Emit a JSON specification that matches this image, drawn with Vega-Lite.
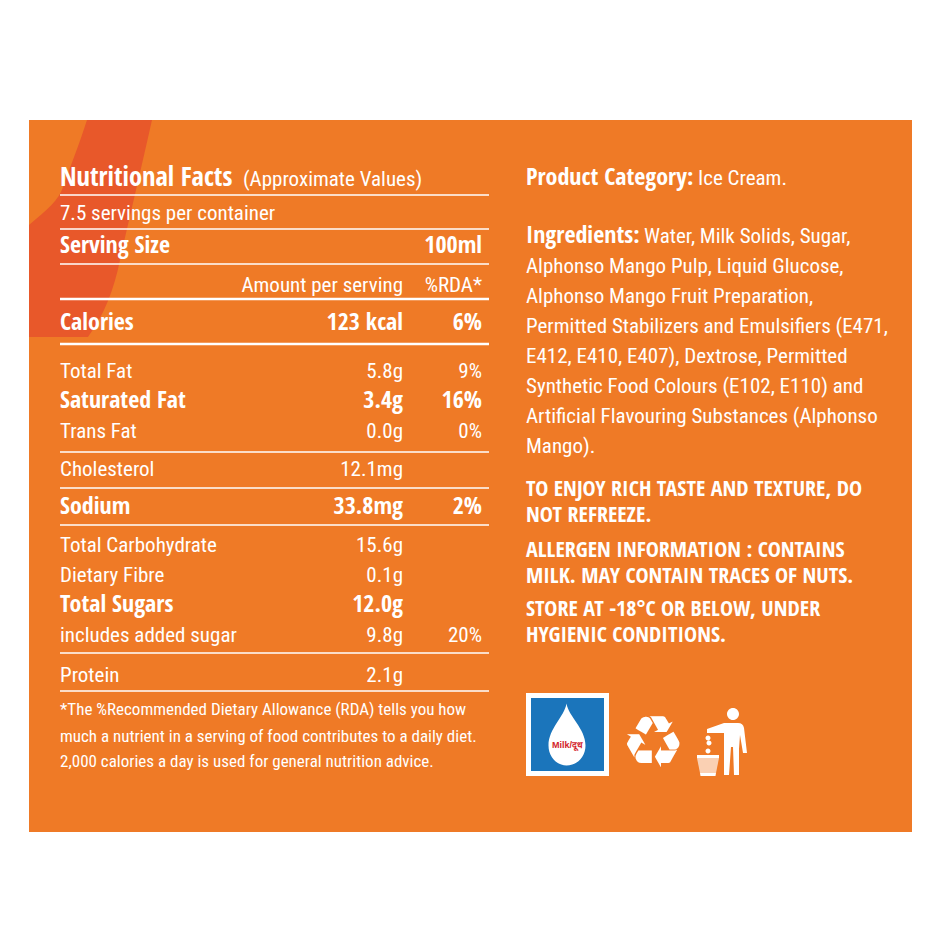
{
  "$schema": "https://vega.github.io/schema/vega-lite/v6.json",
  "autosize": {"type": "fit", "contains": "padding"},
  "width": 940,
  "height": 940,
  "padding": 0,
  "background": "#ffffff",
  "config": {"view": {"stroke": null}},
  "datasets": {
    "panel": [{"c1": 0, "c2": 9, "l1": 50, "l2": 51}],
    "anchor_blob": [{"col": 0, "line": 50}],
    "anchor_milk": [{"col": 10, "line": 52}],
    "anchor_man": [{"col": 12, "line": 54}],
    "rules_thin": [
      {"c1": 1, "c2": 5, "line": 21},
      {"c1": 1, "c2": 5, "line": 22},
      {"c1": 1, "c2": 5, "line": 23},
      {"c1": 1, "c2": 5, "line": 26},
      {"c1": 1, "c2": 5, "line": 27},
      {"c1": 1, "c2": 5, "line": 28},
      {"c1": 1, "c2": 5, "line": 29},
      {"c1": 1, "c2": 5, "line": 30}
    ],
    "rules_thick": [
      {"c1": 1, "c2": 5, "line": 24},
      {"c1": 1, "c2": 5, "line": 25}
    ],
    "title_bold": [
      {"col": 1, "line": 1, "text": "Nutritional Facts"}
    ],
    "head_bold": [
      {"col": 6, "line": 31, "text": "Product Category:"},
      {"col": 6, "line": 32, "text": "Ingredients:"}
    ],
    "left_regular": [
      {"col": 2, "line": 1, "text": "(Approximate Values)"},
      {"col": 1, "line": 2, "text": "7.5 servings per container"},
      {"col": 1, "line": 6, "text": "Total Fat"},
      {"col": 1, "line": 8, "text": "Trans Fat"},
      {"col": 1, "line": 9, "text": "Cholesterol"},
      {"col": 1, "line": 11, "text": "Total Carbohydrate"},
      {"col": 1, "line": 12, "text": "Dietary Fibre"},
      {"col": 1, "line": 14, "text": "includes added sugar"},
      {"col": 1, "line": 15, "text": "Protein"},
      {"col": 8, "line": 31, "text": "Ice Cream."},
      {"col": 7, "line": 32, "text": "Water, Milk Solids, Sugar,"},
      {"col": 6, "line": 33, "text": "Alphonso Mango Pulp, Liquid Glucose,"},
      {"col": 6, "line": 34, "text": "Alphonso Mango Fruit Preparation,"},
      {"col": 6, "line": 35, "text": "Permitted Stabilizers and Emulsifiers (E471,"},
      {"col": 6, "line": 36, "text": "E412, E410, E407), Dextrose, Permitted"},
      {"col": 6, "line": 37, "text": "Synthetic Food Colours (E102, E110) and"},
      {"col": 6, "line": 38, "text": "Artificial Flavouring Substances (Alphonso"},
      {"col": 6, "line": 39, "text": "Mango)."}
    ],
    "left_bold": [
      {"col": 1, "line": 3, "text": "Serving Size"},
      {"col": 1, "line": 5, "text": "Calories"},
      {"col": 1, "line": 7, "text": "Saturated Fat"},
      {"col": 1, "line": 10, "text": "Sodium"},
      {"col": 1, "line": 13, "text": "Total Sugars"}
    ],
    "right_regular": [
      {"col": 3, "line": 4, "text": "Amount per serving"},
      {"col": 4, "line": 4, "text": "%RDA*"},
      {"col": 3, "line": 6, "text": "5.8g"},
      {"col": 4, "line": 6, "text": "9%"},
      {"col": 3, "line": 8, "text": "0.0g"},
      {"col": 4, "line": 8, "text": "0%"},
      {"col": 3, "line": 9, "text": "12.1mg"},
      {"col": 3, "line": 11, "text": "15.6g"},
      {"col": 3, "line": 12, "text": "0.1g"},
      {"col": 3, "line": 14, "text": "9.8g"},
      {"col": 4, "line": 14, "text": "20%"},
      {"col": 3, "line": 15, "text": "2.1g"}
    ],
    "right_bold": [
      {"col": 4, "line": 3, "text": "100ml"},
      {"col": 3, "line": 5, "text": "123 kcal"},
      {"col": 4, "line": 5, "text": "6%"},
      {"col": 3, "line": 7, "text": "3.4g"},
      {"col": 4, "line": 7, "text": "16%"},
      {"col": 3, "line": 10, "text": "33.8mg"},
      {"col": 4, "line": 10, "text": "2%"},
      {"col": 3, "line": 13, "text": "12.0g"}
    ],
    "footnote": [
      {"col": 1, "line": 16, "text": "*The %Recommended Dietary Allowance (RDA) tells you how"},
      {"col": 1, "line": 17, "text": "much a nutrient in a serving of food contributes to a daily diet."},
      {"col": 1, "line": 18, "text": "2,000 calories a day is used for general nutrition advice."}
    ],
    "caps": [
      {"col": 6, "line": 40, "text": "TO ENJOY RICH TASTE AND TEXTURE, DO"},
      {"col": 6, "line": 41, "text": "NOT REFREEZE."},
      {"col": 6, "line": 42, "text": "ALLERGEN INFORMATION : CONTAINS"},
      {"col": 6, "line": 43, "text": "MILK. MAY CONTAIN TRACES OF NUTS."},
      {"col": 6, "line": 44, "text": "STORE AT -18°C OR BELOW, UNDER"},
      {"col": 6, "line": 45, "text": "HYGIENIC CONDITIONS."}
    ],
    "milk_label": [{"col": 10, "line": 55, "text": "Milk/दूध"}],
    "recycle": [{"col": 11, "line": 53, "text": "♻"}]
  },
  "encoding": {
    "x": {
      "field": "col",
      "type": "quantitative",
      "axis": null,
      "scale": {
        "zero": false,
        "nice": false,
        "domain": [0, 1, 2, 3, 4, 5, 6, 7, 8, 9, 10, 11, 12],
        "range": [29, 60, 243, 403, 482, 489, 526, 644, 698, 912, 567.5, 653, 720]
      }
    },
    "y": {
      "field": "line",
      "type": "quantitative",
      "axis": null,
      "scale": {
        "zero": false,
        "nice": false,
        "domain": [1, 2, 3, 4, 5, 6, 7, 8, 9, 10, 11, 12, 13, 14, 15, 16, 17, 18, 21, 22, 23, 24, 25, 26, 27, 28, 29, 30, 31, 32, 33, 34, 35, 36, 37, 38, 39, 40, 41, 42, 43, 44, 45, 50, 51, 52, 53, 54, 55],
        "range": [186, 220, 253, 292, 330, 378, 408, 438, 476, 514, 552, 582, 612, 642, 682, 715, 742, 767, 195, 229, 264, 299, 344, 452, 488, 525, 653, 691, 185, 243, 273, 303, 333, 363, 393, 423, 453, 496, 522, 557, 583, 616, 642, 120, 832, 734.5, 745, 745, 745]
      }
    }
  },
  "layer": [
    {
      "data": {"name": "panel"},
      "mark": {"type": "rect", "color": "#ef7a26"},
      "encoding": {
        "x": {"field": "c1", "type": "quantitative"},
        "x2": {"field": "c2"},
        "y": {"field": "l1", "type": "quantitative"},
        "y2": {"field": "l2"}
      }
    },
    {
      "data": {"name": "anchor_blob"},
      "mark": {"type": "point", "filled": true, "size": 4, "opacity": 1, "strokeWidth": 0, "color": "#e8582a", "shape": "M58,0 L123,0 C113,45 100,100 91,140 C85,170 75,195 59,217 L0,217 L0,105 C18,90 30,80 34,67 C40,50 50,25 58,0Z"}
    },
    {
      "data": {"name": "rules_thin"},
      "mark": {"type": "rule", "color": "#ffffff", "strokeWidth": 1.5},
      "encoding": {"x": {"field": "c1", "type": "quantitative"}, "x2": {"field": "c2"}}
    },
    {
      "data": {"name": "rules_thick"},
      "mark": {"type": "rule", "color": "#ffffff", "strokeWidth": 2.5},
      "encoding": {"x": {"field": "c1", "type": "quantitative"}, "x2": {"field": "c2"}}
    },
    {
      "data": {"name": "title_bold"},
      "mark": {"type": "text", "align": "left", "baseline": "alphabetic", "font": "Open Sans Condensed", "fontWeight": "bold", "fontSize": 26.5, "color": "#ffffff"},
      "encoding": {"text": {"field": "text"}}
    },
    {
      "data": {"name": "head_bold"},
      "mark": {"type": "text", "align": "left", "baseline": "alphabetic", "font": "Open Sans Condensed", "fontWeight": "bold", "fontSize": 24, "color": "#ffffff"},
      "encoding": {"text": {"field": "text"}}
    },
    {
      "data": {"name": "left_regular"},
      "mark": {"type": "text", "align": "left", "baseline": "alphabetic", "font": "Roboto Condensed", "fontSize": 21, "color": "#ffffff"},
      "encoding": {"text": {"field": "text"}}
    },
    {
      "data": {"name": "left_bold"},
      "mark": {"type": "text", "align": "left", "baseline": "alphabetic", "font": "Open Sans Condensed", "fontWeight": "bold", "fontSize": 24, "color": "#ffffff"},
      "encoding": {"text": {"field": "text"}}
    },
    {
      "data": {"name": "right_regular"},
      "mark": {"type": "text", "align": "right", "baseline": "alphabetic", "font": "Roboto Condensed", "fontSize": 21, "color": "#ffffff"},
      "encoding": {"text": {"field": "text"}}
    },
    {
      "data": {"name": "right_bold"},
      "mark": {"type": "text", "align": "right", "baseline": "alphabetic", "font": "Open Sans Condensed", "fontWeight": "bold", "fontSize": 24, "color": "#ffffff"},
      "encoding": {"text": {"field": "text"}}
    },
    {
      "data": {"name": "footnote"},
      "mark": {"type": "text", "align": "left", "baseline": "alphabetic", "font": "Roboto Condensed", "fontSize": 17, "color": "#ffffff"},
      "encoding": {"text": {"field": "text"}}
    },
    {
      "data": {"name": "caps"},
      "mark": {"type": "text", "align": "left", "baseline": "alphabetic", "font": "Open Sans Condensed", "fontWeight": "bold", "fontSize": 22, "color": "#ffffff"},
      "encoding": {"text": {"field": "text"}}
    },
    {
      "data": {"name": "anchor_milk"},
      "mark": {"type": "point", "filled": true, "size": 4, "opacity": 1, "strokeWidth": 0, "color": "#ffffff", "shape": "M-41.5,-41.5 H41.5 V41.5 H-41.5Z"}
    },
    {
      "data": {"name": "anchor_milk"},
      "mark": {"type": "point", "filled": true, "size": 4, "opacity": 1, "strokeWidth": 0, "color": "#1b75bb", "shape": "M-36.5,-36.5 H36.5 V36.5 H-36.5Z"}
    },
    {
      "data": {"name": "anchor_milk"},
      "mark": {"type": "point", "filled": true, "size": 4, "opacity": 1, "strokeWidth": 0, "color": "#ffffff", "shape": "M-1,-31 C-3,-18 -19,-6 -19,11 C-19,23 -10,31 -1,31 C9,31 18,23 18,11 C18,-6 1,-18 -1,-31Z"}
    },
    {
      "data": {"name": "milk_label"},
      "mark": {"type": "text", "align": "center", "baseline": "middle", "font": "Liberation Sans", "fontWeight": "bold", "fontSize": 9, "color": "#d2232a"},
      "encoding": {"text": {"field": "text"}}
    },
    {
      "data": {"name": "recycle"},
      "mark": {"type": "text", "align": "center", "baseline": "middle", "font": "DejaVu Sans", "fontSize": 72, "color": "#ffffff"},
      "encoding": {"text": {"field": "text"}}
    },
    {
      "data": {"name": "anchor_man"},
      "mark": {"type": "point", "filled": true, "size": 4, "opacity": 1, "strokeWidth": 0, "color": "#ffffff", "shape": "M7,-31a6,6 0 1,0 12,0a6,6 0 1,0 -12,0Z M-13,-16 L4,-22 L18,-22 Q23,-22 24,-17 L27,8 L23,8 L20,-10 L19,4 L19,30 L14,30 L13,2 L11,2 L9,30 L4,30 L4,-12 L-13,-12Z M-14.5,-7a2.5,2.5 0 1,0 5,0a2.5,2.5 0 1,0 -5,0Z M-13.5,-2a2.5,2.5 0 1,0 5,0a2.5,2.5 0 1,0 -5,0Z M-14.5,6a2.5,2.5 0 1,0 5,0a2.5,2.5 0 1,0 -5,0Z M-23,10 H-1 V13 H-23Z M-20,28 H-4 L-4.5,31 H-19.5Z"}
    },
    {
      "data": {"name": "anchor_man"},
      "mark": {"type": "point", "filled": true, "size": 4, "opacity": 0.65, "strokeWidth": 0, "color": "#ffffff", "shape": "M-23,13 H-1 L-4,28 H-20Z"}
    }
  ]
}
